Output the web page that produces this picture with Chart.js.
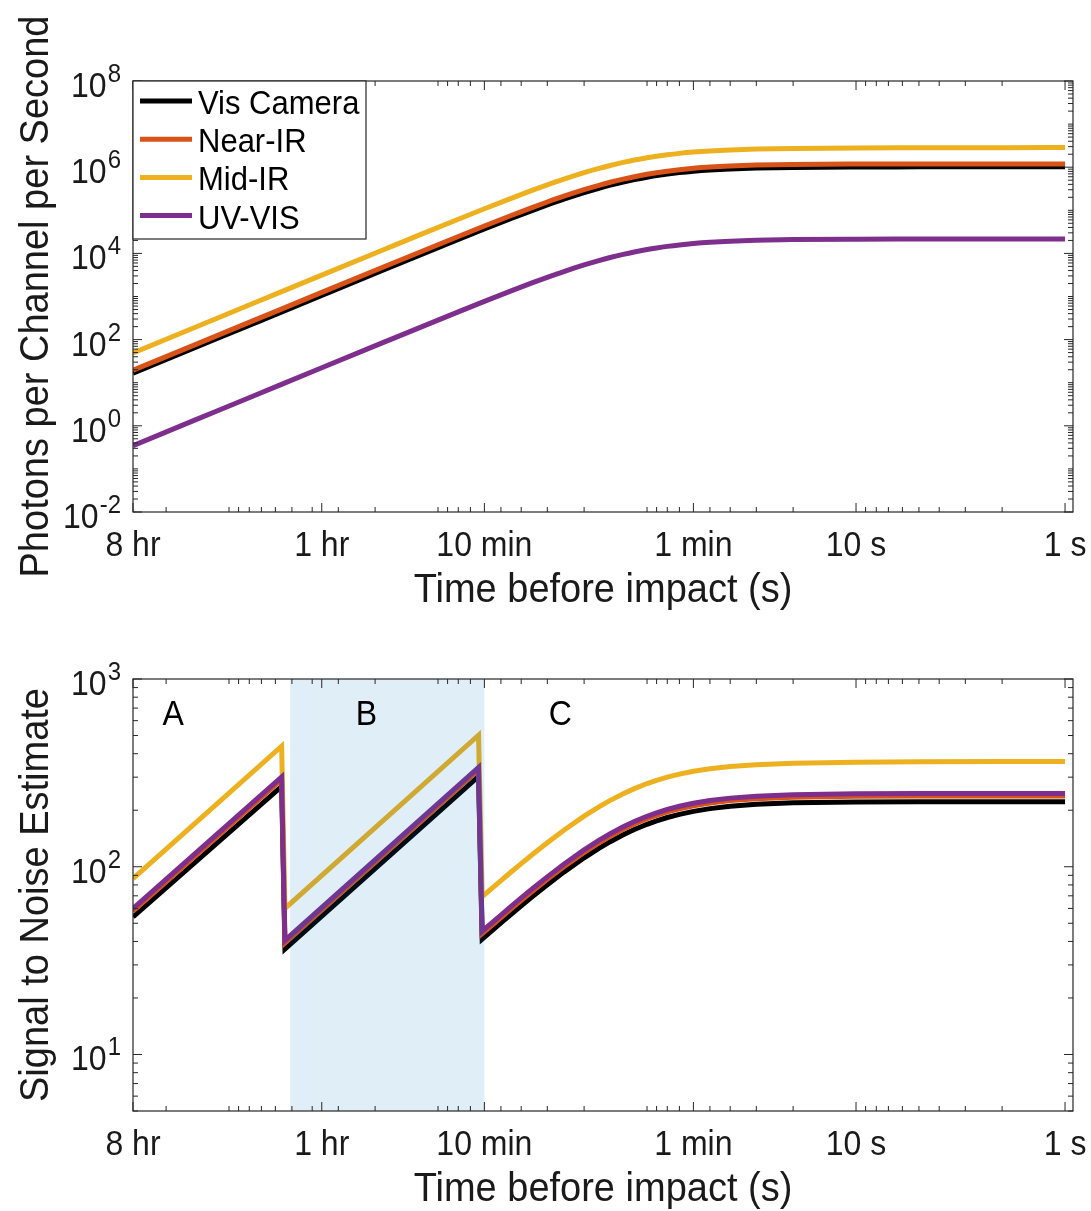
<!DOCTYPE html>
<html>
<head>
<meta charset="utf-8">
<title>Photon rate and SNR before impact</title>
<script src="https://cdn.jsdelivr.net/npm/chart.js@4.4.1/dist/chart.umd.min.js"></script>
<style>
  html, body { margin: 0; padding: 0; background: #fff; }
  #wrap { position: relative; width: 1091px; height: 1211px; }
  canvas { position: absolute; left: 0; }
</style>
</head>
<body>
<div id="wrap">
  <canvas id="photonChart" width="1091" height="620" style="top:0"></canvas>
  <canvas id="snrChart" width="1091" height="591" style="top:620px"></canvas>
</div>
<script>
// ======= Time axis (seconds before impact) =======
const timeTickValues = [28800, 3600, 600, 60, 10, 1];
const timeTickLabels = ["8 hr", "1 hr", "10 min", "1 min", "10 s", "1 s"];
const timeMin = 0.916;
const timeMax = 28800;

const seriesNames = ["Vis Camera", "Near-IR", "Mid-IR", "UV-VIS"];
const seriesColors = ["#000000", "#D95319", "#EDB120", "#7E2F8E"];

// ======= Photon rate per channel =======
const photonTimes = [28800, 14400, 7200, 3600, 1800, 1200, 800, 600, 450, 350, 300, 250, 200, 170, 150, 130, 115, 100, 90, 80, 70, 60, 50, 40, 30, 20, 10, 5, 2, 1];
const photonsVis    = [16.6, 66.4, 265.6, 1061, 4232, 9473, 2.107e4, 3.687e4, 6.375e4, 1.0124e5, 1.3304e5, 1.8117e5, 2.5736e5, 3.2473e5, 3.825e5, 4.5295e5, 5.152e5, 5.859e5, 6.375e5, 6.919e5, 7.484e5, 8.053e5, 8.606e5, 9.119e5, 9.563e5, 9.906e5, 1.0125e6, 1.0181e6, 1.0197e6, 1.02e6];
const photonsNearIR = [19.4, 77.7, 310.8, 1243, 4952, 1.108e4, 2.465e4, 4.314e4, 7.459e4, 1.1845e5, 1.5566e5, 2.1197e5, 3.0111e5, 3.7993e5, 4.4753e5, 5.2995e5, 6.0278e5, 6.855e5, 7.4588e5, 8.0952e5, 8.7563e5, 9.422e5, 1.0069e6, 1.0669e6, 1.1189e6, 1.159e6, 1.1846e6, 1.1912e6, 1.193e6, 1.1934e6];
const photonsMidIR  = [49, 196, 784, 3136, 1.248e4, 2.794e4, 6.209e4, 1.085e5, 1.873e5, 2.966e5, 3.889e5, 5.277e5, 7.455e5, 9.361e5, 1.098e6, 1.294e6, 1.465e6, 1.658e6, 1.797e6, 1.943e6, 2.093e6, 2.244e6, 2.389e6, 2.522e6, 2.637e6, 2.725e6, 2.80e6, 2.825e6, 2.84e6, 2.85e6];
const photonsUVVIS  = [0.347, 1.388, 5.552, 22.2, 88.4, 198, 440.5, 770.8, 1333, 2118, 2784, 3793, 5391, 6806, 8021, 9503, 1.0815e4, 1.2306e4, 1.3394e4, 1.4546e4, 1.5738e4, 1.6943e4, 1.8115e4, 1.9205e4, 2.0146e4, 2.0876e4, 2.134e4, 2.146e4, 2.149e4, 2.15e4];
const photonExponents = [-2, 0, 2, 4, 6, 8];

// ======= Signal to noise =======
const snrTimes = [28800, 5600, 5400, 640, 615, 500, 450, 400, 350, 300, 250, 200, 170, 150, 130, 115, 100, 90, 80, 70, 60, 50, 40, 30, 20, 10, 5, 2, 1];
const snrVis    = [54, 268, 36.5, 303, 41.2, 50.3, 55.5, 61.9, 70.0, 80.2, 93.6, 111.6, 125.3, 136.0, 148.0, 157.8, 168.3, 175.6, 182.9, 190.2, 197.3, 204.0, 210.0, 215.0, 218.9, 221.3, 221.9, 222.0, 222.1];
const snrNearIR = [58, 292, 39.3, 328, 44.0, 53.6, 59.3, 66.2, 74.7, 85.7, 100.0, 119.2, 134.0, 145.4, 158.3, 168.9, 180.1, 187.9, 195.8, 203.7, 211.4, 218.5, 225.0, 230.5, 234.6, 237.2, 237.8, 238.0, 238.1];
const snrMidIR  = [86.5, 439, 60, 502, 69.3, 84.4, 93.2, 103.9, 117.3, 134.3, 156.5, 186.0, 208.4, 225.7, 245.0, 260.7, 277.4, 288.7, 300.2, 311.6, 322.7, 332.9, 342.1, 349.8, 355.6, 360.4, 362.0, 363.0, 363.6];
const snrUVVIS  = [59.8, 301, 40.5, 338, 45.4, 55.3, 61.1, 68.2, 77.0, 88.3, 103.1, 122.9, 138.1, 149.9, 163.2, 174.1, 185.7, 193.7, 201.9, 210.0, 217.9, 225.3, 232.0, 237.6, 241.9, 244.5, 245.2, 245.4, 245.5];
const snrExponents = [1, 2, 3];
const snrMin = 5;
const snrMax = 1000;

// observing phases
const regionLabels = ["A", "B", "C"];
const regionLabelTimes = [18500, 2200, 260];
const regionLabelSnr = 640;
const shadedWindow = [5100, 600];

// ======= Drawing helpers =======
const FONT = '"Liberation Sans", Arial, Helvetica, sans-serif';
const AXIS_COLOR = "#262626";
const TEXT_STRETCH = 1.07;   // glyphs are a bit taller than wide

// log minor ticks at k*10^n, leaving out the labelled ones
function minorTicks(lo, hi, skip) {
  const out = [];
  for (let e = Math.floor(Math.log10(lo)); e <= Math.ceil(Math.log10(hi)); e++) {
    for (let k = 1; k <= 9; k++) {
      const v = k * Math.pow(10, e);
      if (v < lo * 0.9999 || v > hi * 1.0001) continue;
      if (skip.some(s => Math.abs(s - v) / v < 1e-6)) continue;
      out.push(v);
    }
  }
  return out;
}

function tallText(ctx, txt, x, y, angle) {
  ctx.save();
  ctx.translate(x, y);
  if (angle) ctx.rotate(angle);
  ctx.scale(1, TEXT_STRETCH);
  ctx.fillText(txt, 0, 0);
  ctx.restore();
}

function makeDatasets(times, seriesValues, smooth) {
  return seriesValues.map((vals, i) => ({
    label: seriesNames[i],
    data: times.map((t, j) => ({ x: t, y: vals[j] })),
    borderColor: seriesColors[i],
    backgroundColor: seriesColors[i],
    borderWidth: 5,
    pointRadius: 0,
    fill: false,
    tension: smooth ? 0.4 : 0,
    cubicInterpolationMode: smooth ? "monotone" : "default",
    borderJoinStyle: "miter",
    order: seriesValues.length - i   // UV-VIS ends up on top
  }));
}

function logScales(yMin, yMax) {
  return {
    x: { type: "logarithmic", reverse: true, min: timeMin, max: timeMax, bounds: "data", display: false },
    y: { type: "logarithmic", min: yMin, max: yMax, bounds: "data", display: false }
  };
}

// box, inward ticks on all sides, labels, titles (matlab look)
function matlabAxes(cfg) {
  return {
    id: "matlabAxes",
    afterDatasetsDraw(chart) {
      if (!cfg.shade) return;
      const { ctx, chartArea: a, scales: { x } } = chart;
      const x0 = x.getPixelForValue(cfg.shade[0]);
      const x1 = x.getPixelForValue(cfg.shade[1]);
      ctx.save();
      ctx.fillStyle = "rgba(0, 114, 189, 0.12)";
      ctx.fillRect(x0, a.top, x1 - x0, a.bottom - a.top);
      ctx.restore();
    },
    afterDraw(chart) {
      const { ctx, chartArea: a, scales: { x, y } } = chart;
      ctx.save();

      ctx.strokeStyle = AXIS_COLOR;
      ctx.lineWidth = 1.2;
      ctx.strokeRect(a.left, a.top, a.right - a.left, a.bottom - a.top);

      ctx.lineWidth = 1;
      ctx.beginPath();
      const xTick = (v, len) => {
        const px = x.getPixelForValue(v);
        ctx.moveTo(px, a.bottom); ctx.lineTo(px, a.bottom - len);
        ctx.moveTo(px, a.top); ctx.lineTo(px, a.top + len);
      };
      const yTick = (v, len) => {
        const py = y.getPixelForValue(v);
        ctx.moveTo(a.left, py); ctx.lineTo(a.left + len, py);
        ctx.moveTo(a.right, py); ctx.lineTo(a.right - len, py);
      };
      minorTicks(timeMin, timeMax, timeTickValues).forEach(v => xTick(v, 5));
      timeTickValues.forEach(v => xTick(v, 9));
      const yMajor = cfg.yExponents.map(e => Math.pow(10, e));
      minorTicks(y.min, y.max, yMajor).forEach(v => yTick(v, 5));
      yMajor.forEach(v => yTick(v, 9));
      ctx.stroke();

      // x tick labels
      ctx.fillStyle = "#1a1a1a";
      ctx.font = `32px ${FONT}`;
      ctx.textAlign = "center";
      ctx.textBaseline = "alphabetic";
      timeTickValues.forEach((v, i) => {
        tallText(ctx, timeTickLabels[i], x.getPixelForValue(v), a.bottom + 44);
      });

      // y tick labels as 10^n
      cfg.yExponents.forEach(e => {
        const py = y.getPixelForValue(Math.pow(10, e));
        const exp = String(e);
        ctx.textAlign = "left";
        ctx.font = `24px ${FONT}`;
        const ew = ctx.measureText(exp).width;
        ctx.font = `32px ${FONT}`;
        const bw = ctx.measureText("10").width;
        const right = a.left - 12;
        tallText(ctx, "10", right - ew - bw - 1, py + 16);
        ctx.font = `24px ${FONT}`;
        tallText(ctx, exp, right - ew, py + 1);
      });

      // axis titles
      ctx.font = `38px ${FONT}`;
      ctx.textAlign = "center";
      tallText(ctx, "Time before impact (s)", (a.left + a.right) / 2, a.bottom + 90);
      tallText(ctx, cfg.yTitle, 48, (a.top + a.bottom) / 2, -Math.PI / 2);

      // phase letters
      if (cfg.regions) {
        ctx.fillStyle = "#000";
        ctx.font = `32px ${FONT}`;
        ctx.textBaseline = "middle";
        regionLabels.forEach((txt, i) => {
          tallText(ctx, txt, x.getPixelForValue(regionLabelTimes[i]), y.getPixelForValue(regionLabelSnr));
        });
      }

      // legend in the upper left corner
      if (cfg.legend) {
        const lx = a.left, ly = a.top, lw = 233, lh = 158;
        ctx.fillStyle = "#fff";
        ctx.fillRect(lx, ly, lw, lh);
        ctx.strokeStyle = AXIS_COLOR;
        ctx.lineWidth = 1.2;
        ctx.strokeRect(lx, ly, lw, lh);
        ctx.font = `31px ${FONT}`;
        ctx.textAlign = "left";
        ctx.textBaseline = "alphabetic";
        chart.data.datasets.forEach((ds, i) => {
          const base = ly + 33 + i * 38.2;
          ctx.strokeStyle = ds.borderColor;
          ctx.lineWidth = 5;
          ctx.beginPath();
          ctx.moveTo(lx + 7, base - 13);
          ctx.lineTo(lx + 59, base - 13);
          ctx.stroke();
          ctx.fillStyle = "#000";
          tallText(ctx, ds.label, lx + 65, base);
        });
      }
      ctx.restore();
    }
  };
}

// ======= Charts =======
const photonChart = new Chart(document.getElementById("photonChart"), {
  type: "line",
  data: { datasets: makeDatasets(photonTimes, [photonsVis, photonsNearIR, photonsMidIR, photonsUVVIS], true) },
  options: {
    responsive: false,
    animation: false,
    devicePixelRatio: 1,
    layout: { padding: { left: 133, right: 18, top: 81, bottom: 108 } },
    scales: logScales(1e-2, 1e8),
    plugins: { legend: { display: false }, tooltip: { enabled: false } }
  },
  plugins: [matlabAxes({ yExponents: photonExponents, yTitle: "Photons per Channel per Second", legend: true })]
});

const snrChart = new Chart(document.getElementById("snrChart"), {
  type: "line",
  data: { datasets: makeDatasets(snrTimes, [snrVis, snrNearIR, snrMidIR, snrUVVIS], false) },
  options: {
    responsive: false,
    animation: false,
    devicePixelRatio: 1,
    layout: { padding: { left: 133, right: 18, top: 59, bottom: 100 } },
    scales: logScales(snrMin, snrMax),
    plugins: { legend: { display: false }, tooltip: { enabled: false } }
  },
  plugins: [matlabAxes({ yExponents: snrExponents, yTitle: "Signal to Noise Estimate", shade: shadedWindow, regions: true })]
});
</script>
</body>
</html>
